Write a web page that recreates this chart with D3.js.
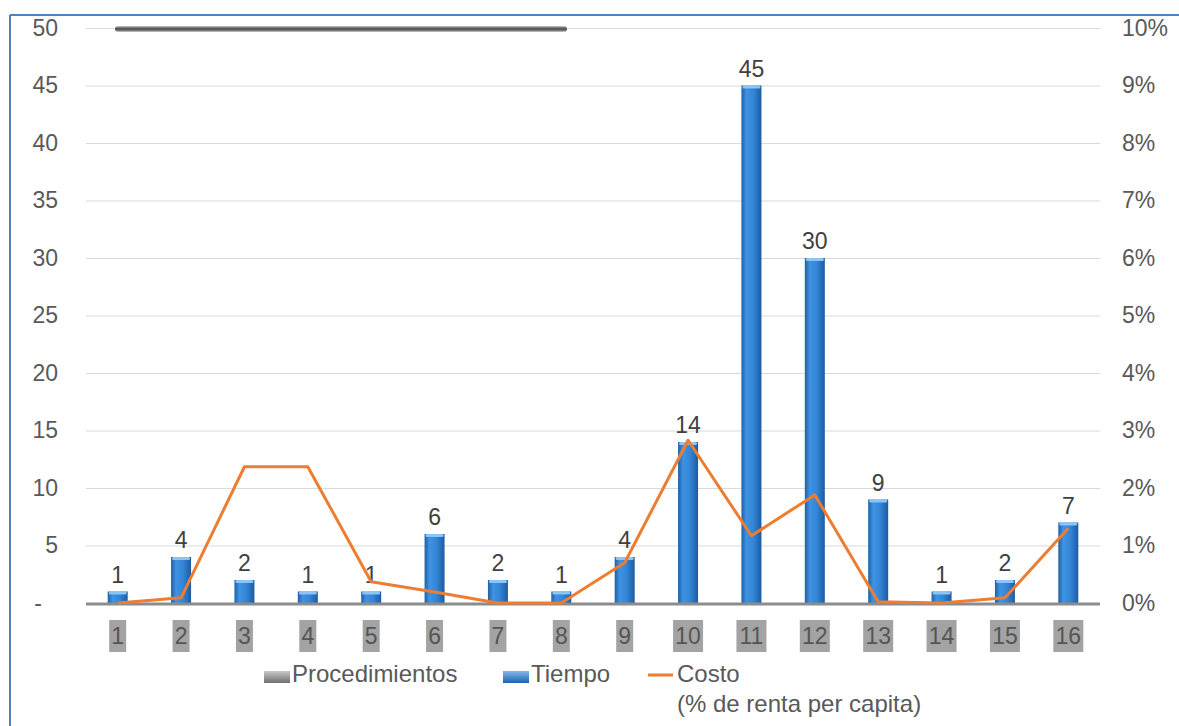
<!DOCTYPE html>
<html>
<head>
<meta charset="utf-8">
<script src="https://cdn.jsdelivr.net/npm/d3@7"></script>
<style>
  body { margin: 0; background: #fff; }
  svg { display: block; font-family: "Liberation Sans", Arial, sans-serif; }
</style>
</head>
<body>
<div id="chart-area"></div>
<script>
// data
const categories = ["1","2","3","4","5","6","7","8","9","10","11","12","13","14","15","16"];
const tiempo = [1, 4, 2, 1, 1, 6, 2, 1, 4, 14, 45, 30, 9, 1, 2, 7];
const costo = [0, 0.0009, 0.0237, 0.0237, 0.0037, 0.0019, 0, 0, 0.007, 0.0283, 0.0117, 0.0188, 0.0002, 0, 0.0009, 0.013];
const leftTicks = [0, 5, 10, 15, 20, 25, 30, 35, 40, 45, 50];
const rightTicks = [0, 0.01, 0.02, 0.03, 0.04, 0.05, 0.06, 0.07, 0.08, 0.09, 0.10];

const W = 1179, H = 726;
const plot = {left: 86, right: 1100, top: 28, bottom: 603};

const svg = d3.select("#chart-area").append("svg")
  .attr("width", W).attr("height", H);

const defs = svg.append("defs");
// bar gradient (left to right)
let g1 = defs.append("linearGradient").attr("id", "barGrad");
[["0%", "#1f5fa6"], ["25%", "#3f93e2"], ["60%", "#3385d6"], ["100%", "#1d5ba2"]]
  .forEach(s => g1.append("stop").attr("offset", s[0]).attr("stop-color", s[1]));
let g2 = defs.append("linearGradient").attr("id", "grayGrad").attr("x2", 0).attr("y2", 1);
[["0%", "#c8c8c8"], ["100%", "#6f6f6f"]]
  .forEach(s => g2.append("stop").attr("offset", s[0]).attr("stop-color", s[1]));
let g3 = defs.append("linearGradient").attr("id", "blueLeg").attr("x2", 0).attr("y2", 1);
[["0%", "#7fb8ee"], ["100%", "#1f62ad"]]
  .forEach(s => g3.append("stop").attr("offset", s[0]).attr("stop-color", s[1]));
let g4 = defs.append("linearGradient").attr("id", "darkStroke").attr("x2", 0).attr("y2", 1);
[["0%", "#d0d0d0"], ["35%", "#5a5a5a"], ["65%", "#5a5a5a"], ["100%", "#d0d0d0"]]
  .forEach(s => g4.append("stop").attr("offset", s[0]).attr("stop-color", s[1]));

// frame
svg.append("line").attr("x1", 10).attr("x2", W).attr("y1", 15).attr("y2", 15)
  .attr("stroke", "#4f81bd").attr("stroke-width", 2);
svg.append("line").attr("x1", 10).attr("x2", 10).attr("y1", 15).attr("y2", H)
  .attr("stroke", "#4f81bd").attr("stroke-width", 2);

// scales
let x = d3.scaleBand().domain(categories).range([plot.left, plot.right]);
let yL = d3.scaleLinear().domain([0, 50]).range([plot.bottom, plot.top]);
let yR = d3.scaleLinear().domain([0, 0.10]).range([plot.bottom, plot.top]);

// grid lines + left axis
let leftAxis = svg.append("g")
  .attr("transform", "translate(" + plot.left + ",0)")
  .call(d3.axisLeft(yL).tickValues(leftTicks)
    .tickSize(-(plot.right - plot.left))
    .tickPadding(28)
    .tickFormat(d => d === 0 ? "-" : d));
leftAxis.select(".domain").remove();
leftAxis.selectAll("line").attr("stroke", "#d9d9d9").attr("stroke-width", 1.2);
leftAxis.selectAll("text").attr("fill", "#595959").attr("font-size", 23)
  .attr("font-family", "Liberation Sans, Arial, sans-serif");
leftAxis.selectAll("text").filter(d => d === 0).attr("x", -44);

// right axis
let rightAxis = svg.append("g")
  .attr("transform", "translate(" + plot.right + ",0)")
  .call(d3.axisRight(yR).tickValues(rightTicks).tickSize(0).tickPadding(22)
    .tickFormat(d3.format(".0%")));
rightAxis.select(".domain").remove();
rightAxis.selectAll("text").attr("fill", "#595959").attr("font-size", 23)
  .attr("font-family", "Liberation Sans, Arial, sans-serif");

// dark stroke at the top (Procedimientos remnant)
svg.append("rect").attr("x", 115).attr("y", 26).attr("width", 452).attr("height", 6)
  .attr("rx", 3).attr("fill", "url(#darkStroke)");

// bars
const bw = 20;
let bars = svg.append("g");
bars.selectAll("rect.bar").data(tiempo).enter().append("rect")
  .attr("class", "bar")
  .attr("x", (d, i) => x(categories[i]) + x.bandwidth() / 2 - bw / 2)
  .attr("y", d => yL(d))
  .attr("width", bw)
  .attr("height", d => plot.bottom - yL(d))
  .attr("fill", "url(#barGrad)");
bars.selectAll("rect.cap").data(tiempo).enter().append("rect")
  .attr("class", "cap")
  .attr("x", (d, i) => x(categories[i]) + x.bandwidth() / 2 - bw / 2 + 1)
  .attr("y", d => yL(d))
  .attr("width", bw - 2)
  .attr("height", 3)
  .attr("rx", 1.5)
  .attr("fill", "#8cc4f4");

// x axis line
svg.append("line").attr("x1", plot.left).attr("x2", plot.right)
  .attr("y1", plot.bottom + 1).attr("y2", plot.bottom + 1)
  .attr("stroke", "#8c8c8c").attr("stroke-width", 3);

// value labels
svg.append("g").selectAll("text").data(tiempo).enter().append("text")
  .attr("x", (d, i) => x(categories[i]) + x.bandwidth() / 2)
  .attr("y", d => yL(d) - 9)
  .attr("text-anchor", "middle")
  .attr("font-size", 23)
  .attr("fill", "#404040")
  .text(d => d);

// costo line
let line = d3.line()
  .x((d, i) => x(categories[i]) + x.bandwidth() / 2)
  .y(d => yR(d));
svg.append("path").datum(costo)
  .attr("d", line)
  .attr("fill", "none")
  .attr("stroke", "#ed7d31")
  .attr("stroke-width", 3)
  .attr("stroke-linejoin", "round");

// category labels in gray boxes
let cat = svg.append("g").selectAll("g").data(categories).enter().append("g")
  .attr("transform", d => "translate(" + (x(d) + x.bandwidth() / 2) + ",636)");
cat.append("rect")
  .attr("x", d => -(d.length > 1 ? 15 : 8.5))
  .attr("y", -16)
  .attr("width", d => d.length > 1 ? 30 : 17)
  .attr("height", 32)
  .attr("fill", "#a3a3a3");
cat.append("text")
  .attr("text-anchor", "middle")
  .attr("y", 8)
  .attr("font-size", 23)
  .attr("fill", "#555")
  .text(d => d);

// legend
let leg = svg.append("g").attr("font-size", 24).attr("fill", "#595959");
leg.append("rect").attr("x", 264).attr("y", 671).attr("width", 26).attr("height", 12)
  .attr("fill", "url(#grayGrad)");
leg.append("text").attr("x", 292).attr("y", 682).text("Procedimientos");
leg.append("rect").attr("x", 503).attr("y", 671).attr("width", 26).attr("height", 12)
  .attr("fill", "url(#blueLeg)");
leg.append("text").attr("x", 531).attr("y", 682).text("Tiempo");
leg.append("line").attr("x1", 648).attr("x2", 673).attr("y1", 675).attr("y2", 675)
  .attr("stroke", "#ed7d31").attr("stroke-width", 3);
leg.append("text").attr("x", 677).attr("y", 682).text("Costo");
leg.append("text").attr("x", 677).attr("y", 712).text("(% de renta per capita)");
</script>
</body>
</html>
